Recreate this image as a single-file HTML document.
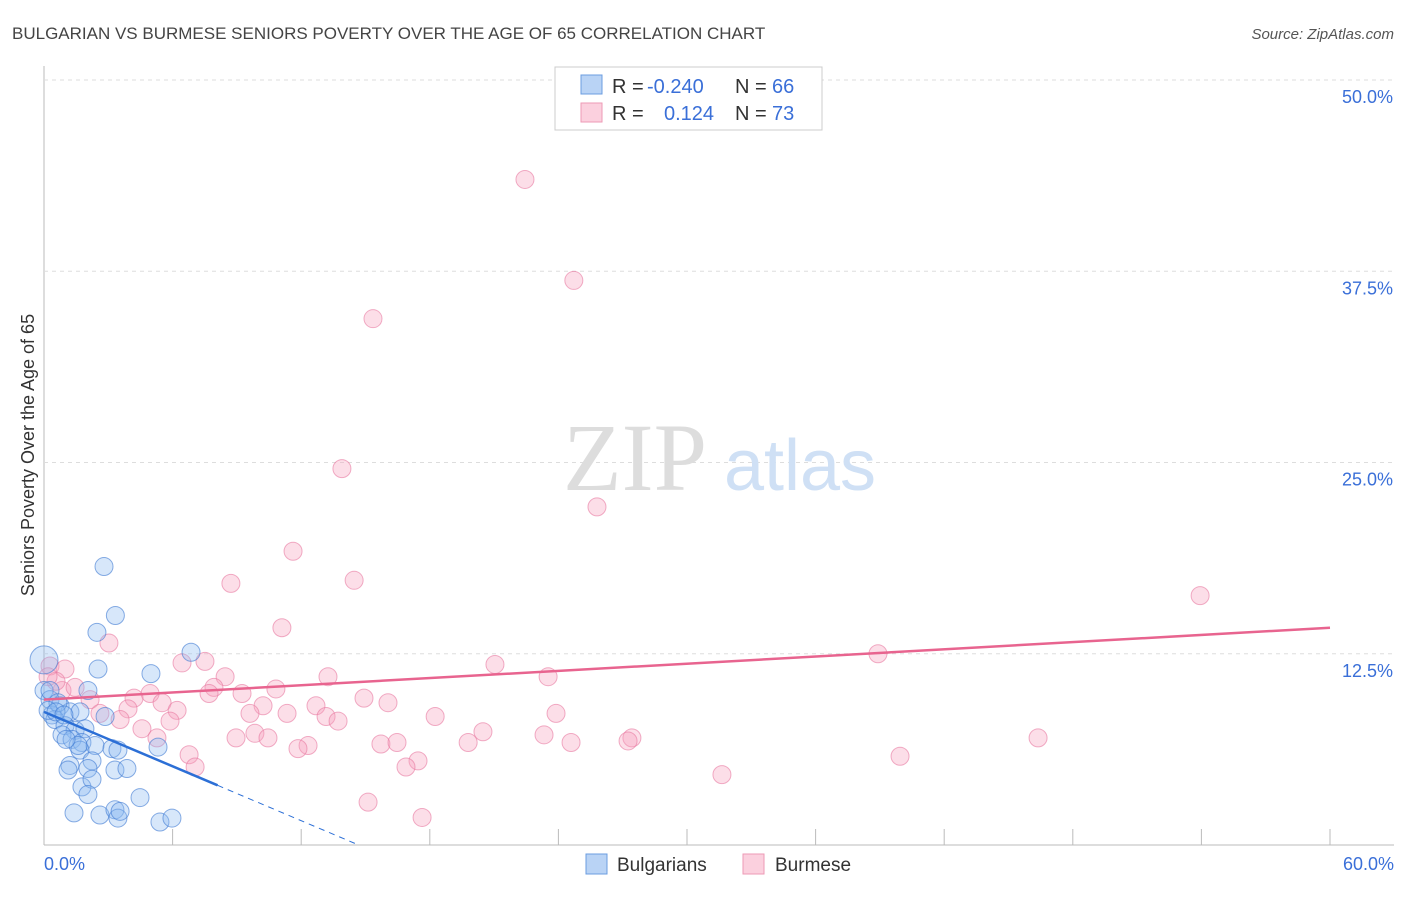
<!DOCTYPE html>
<html><head><meta charset="utf-8"><style>
body{margin:0;background:#fff;font-family:"Liberation Sans",sans-serif;}
</style></head><body>
<svg width="1406" height="892" xmlns="http://www.w3.org/2000/svg" font-family="Liberation Sans, sans-serif">
<text x="12" y="39" font-size="17" fill="#444">BULGARIAN VS BURMESE SENIORS POVERTY OVER THE AGE OF 65 CORRELATION CHART</text>
<text x="1394" y="39" font-size="15" fill="#555" text-anchor="end" font-style="italic">Source: ZipAtlas.com</text>
<g id="grid"></g>
<text x="635" y="490" font-size="96" fill="#ddd" font-family="Liberation Serif, serif" text-anchor="middle">ZIP</text>
<text x="800" y="490" font-size="72" fill="#cfe0f5" text-anchor="middle">atlas</text>
<text transform="translate(34,455) rotate(-90)" font-size="18" fill="#333" text-anchor="middle">Seniors Poverty Over the Age of 65</text>
<g id="pts"></g>
<g id="lines"></g>
<g>
<rect x="555" y="67" width="267" height="63" fill="#fff" stroke="#ccc"/>
<rect x="581" y="75" width="21" height="19" fill="#b9d3f5" stroke="#6b9de0"/>
<rect x="581" y="103" width="21" height="19" fill="#fbd0de" stroke="#ee9ab5"/>
<text y="93" font-size="20" fill="#333"><tspan x="612">R =</tspan><tspan x="647" fill="#3a6fd8">-0.240</tspan><tspan x="735">N =</tspan><tspan x="772" fill="#3a6fd8">66</tspan></text>
<text y="120" font-size="20" fill="#333"><tspan x="612">R =</tspan><tspan x="664" fill="#3a6fd8">0.124</tspan><tspan x="735">N =</tspan><tspan x="772" fill="#3a6fd8">73</tspan></text>
</g>
<g>
<rect x="586" y="854" width="21" height="20" fill="#b9d3f5" stroke="#6b9de0"/>
<text x="617" y="871" font-size="19" fill="#333">Bulgarians</text>
<rect x="743" y="854" width="21" height="20" fill="#fbd0de" stroke="#ee9ab5"/>
<text x="775" y="871" font-size="19" fill="#333">Burmese</text>
</g>
</svg>
<script>
const yTicks=[12.5,25,37.5,50];
const xTickVals=[0,6,12,18,24,30,36,42,48,54,60];
const blueX=[2.8,3.33,2.47,6.86,4.99,2.52,2.05,0,0.28,0.75,0.37,1.21,1.68,2.85,0.51,0.98,1.45,1.91,0.84,1.31,1.77,2.38,3.17,3.45,5.32,1.68,2.24,1.21,1.12,2.05,3.31,3.87,1.77,2.24,2.05,4.48,1.4,2.61,3.31,3.45,3.55,5.41,5.97,0,0.28,0.65,0.19,0.56,0.93,1.59,1.03];
const blueY=[18.2,15.0,13.9,12.6,11.2,11.5,10.1,10.1,9.5,9.1,8.5,8.7,8.7,8.4,8.2,7.8,7.5,7.6,7.2,6.9,6.7,6.5,6.3,6.2,6.4,6.2,5.5,5.2,4.9,5.0,4.9,5.0,3.8,4.3,3.3,3.1,2.1,1.96,2.3,1.76,2.2,1.5,1.76,12.1,10.1,9.3,8.8,8.7,8.5,6.5,6.9];
const pinkX=[22.44,24.72,15.35,13.9,25.8,11.62,14.47,8.72,53.94,11.1,3.03,38.91,6.44,7.51,21.04,8.45,23.52,13.25,10.82,7.93,4.95,0.84,4.2,9.24,7.7,14.93,5.51,2.15,12.69,16.05,10.22,6.21,3.92,2.61,9.61,11.34,18.25,23.89,3.55,13.16,13.72,5.88,4.57,20.48,9.84,8.96,10.45,23.33,5.27,27.43,27.25,46.38,15.72,16.47,19.79,24.59,12.32,11.85,6.77,39.94,17.45,16.89,7.05,31.63,15.12,17.64,0.28,0.98,0.56,1.45,0.19];
const pinkY=[43.5,36.9,34.4,24.6,22.1,19.2,17.3,17.1,16.3,14.2,13.2,12.5,11.9,12.0,11.8,11.0,11.0,11.0,10.2,10.3,9.9,10.1,9.6,9.9,9.9,9.6,9.3,9.5,9.1,9.3,9.1,8.8,8.9,8.6,8.6,8.6,8.4,8.6,8.2,8.4,8.1,8.1,7.6,7.4,7.3,7.0,7.0,7.2,7.0,7.0,6.8,7.0,6.6,6.7,6.7,6.7,6.5,6.3,5.9,5.8,5.5,5.1,5.1,4.6,2.8,1.8,11.7,11.5,10.7,10.3,11.0];
const pinkTrend=[9.5,14.2];
const blueTrend=[8.7,3.9];
const NS="http://www.w3.org/2000/svg";
const X0=44,X1=1330,YB=845,Y50=80;
const sx=v=>X0+(v/60)*(X1-X0);
const sy=v=>YB-(v/50)*(YB-Y50);
function mk(t,a,p){const e=document.createElementNS(NS,t);for(const k in a)e.setAttribute(k,a[k]);p.appendChild(e);return e;}
const grid=document.getElementById('grid');
mk('line',{x1:X0,y1:66,x2:X0,y2:YB,stroke:'#bbb'},grid);
mk('line',{x1:X0,y1:YB,x2:1394,y2:YB,stroke:'#bbb'},grid);
yTicks.forEach(v=>{
const l=mk('line',{x1:X0,y1:sy(v),x2:1394,y2:sy(v),stroke:'#ddd','stroke-dasharray':'4,4'},grid);


const t=mk('text',{x:1393,y:sy(v)+23,'font-size':18,fill:'#3a6fd8','text-anchor':'end'},grid);
t.textContent=v.toFixed(1)+'%';


});
xTickVals.forEach((v,i)=>{
if(i===0)return;
const l=mk('line',{x1:sx(v),y1:YB,x2:sx(v),y2:YB-16,stroke:'#bbb'},grid);


});
[[0,'0.0%',44,'start'],[60,'60.0%',1394,'end']].forEach(a=>{
const t=mk('text',{x:a[2],y:870,'font-size':18,fill:'#3a6fd8','text-anchor':a[3]},grid);
t.textContent=a[1];


});
const pts=document.getElementById('pts');
pinkX.forEach((x,i)=>{
const c=mk('circle',{cx:sx(x),cy:sy(pinkY[i]),r:9,fill:'rgba(245,160,190,0.35)',stroke:'rgba(232,120,160,0.6)'},pts);


});
blueX.forEach((x,i)=>{
const c=mk('circle',{cx:sx(x),cy:sy(blueY[i]),r:(i===43?14:9),fill:'rgba(140,185,240,0.35)',stroke:'rgba(60,120,210,0.6)'},pts);


});
const lines=document.getElementById('lines');
const pl=mk('line',{x1:sx(0),y1:sy(pinkTrend[0]),x2:sx(60),y2:sy(pinkTrend[1]),stroke:'#e8648f','stroke-width':2.5},lines);


const slope=(blueTrend[1]-blueTrend[0])/8.1;
const bl=mk('line',{x1:sx(0),y1:sy(blueTrend[0]),x2:sx(8.1),y2:sy(blueTrend[1]),stroke:'#2c6fd6','stroke-width':2.5},lines);


const xz=-blueTrend[0]/slope;
const bd=mk('line',{x1:sx(8.1),y1:sy(blueTrend[1]),x2:sx(xz),y2:sy(0),stroke:'#2c6fd6','stroke-width':1,'stroke-dasharray':'6,5'},lines);


</script>
</body></html>
